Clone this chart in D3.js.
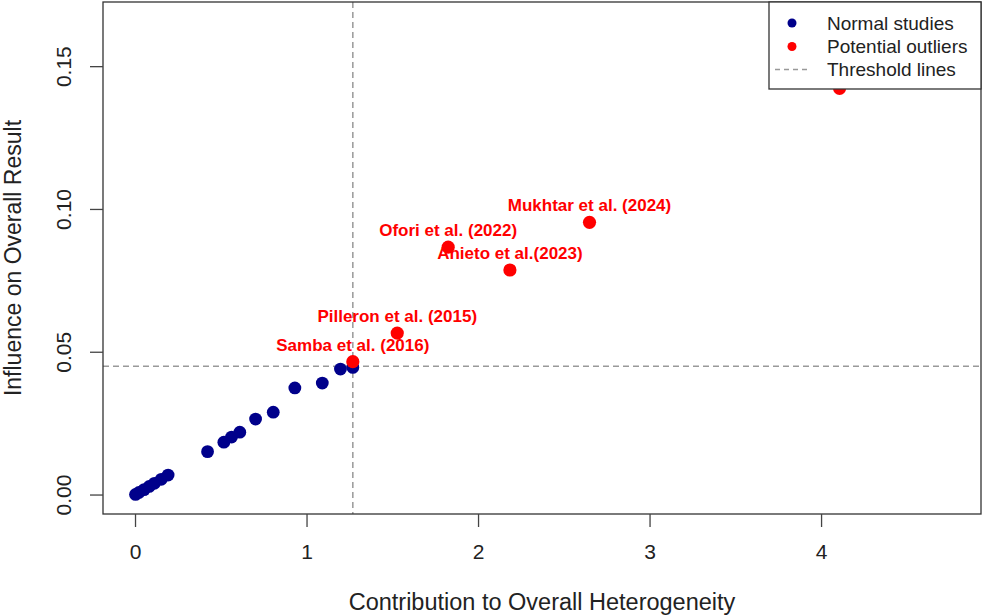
<!DOCTYPE html>
<html>
<head>
<meta charset="utf-8">
<script src="https://d3js.org/d3.v7.min.js"></script>
<style>
  body { margin: 0; background: #fff; }
  text { font-family: "Liberation Sans", Arial, sans-serif; }
</style>
</head>
<body>
<script>
// Normal studies (blue)
const normalX = [0.00, 0.02, 0.05, 0.08, 0.11, 0.15, 0.19, 0.42, 0.515, 0.56, 0.608, 0.70, 0.803, 0.929, 1.089, 1.195, 1.267];
const normalY = [0.0002, 0.0009, 0.0019, 0.0030, 0.0041, 0.0055, 0.0070, 0.0152, 0.0185, 0.0203, 0.0220, 0.0266, 0.0290, 0.0375, 0.0392, 0.0441, 0.0447];

// Potential outliers (red)
const outX = [1.267, 1.526, 1.823, 2.183, 2.647, 4.105];
const outY = [0.0467, 0.0567, 0.0868, 0.0788, 0.0955, 0.1424];
const outLabels = ["Samba et al. (2016)", "Pilleron et al. (2015)", "Ofori et al. (2022)", "Anieto et al.(2023)", "Mukhtar et al. (2024)", null];

// threshold lines
const thresholdX = 1.267;
const thresholdY = 0.0451;

const xTicks = [0, 1, 2, 3, 4];
const yTicks = [0, 0.05, 0.10, 0.15];
const legendItems = ["Normal studies", "Potential outliers", "Threshold lines"];

const xlim = [0, 4.74], ylim = [0, 0.166];

const width = 983, height = 615;
const plot = { left: 103, right: 981, top: 2, bottom: 514 };

// R style 4% padding on each side
const pad = (l) => { const d = (l[1] - l[0]) * 0.04; return [l[0] - d, l[1] + d]; };

const x = d3.scaleLinear().domain(pad(xlim)).range([plot.left, plot.right]);
const y = d3.scaleLinear().domain(pad(ylim)).range([plot.bottom, plot.top]);

const svg = d3.select("body").append("svg")
    .attr("width", width)
    .attr("height", height);

// threshold lines
svg.append("line")
    .attr("x1", x(thresholdX)).attr("x2", x(thresholdX))
    .attr("y1", plot.top).attr("y2", plot.bottom)
    .attr("stroke", "#999").attr("stroke-width", 1.5).attr("stroke-dasharray", "6,4");
svg.append("line")
    .attr("x1", plot.left).attr("x2", plot.right)
    .attr("y1", y(thresholdY)).attr("y2", y(thresholdY))
    .attr("stroke", "#999").attr("stroke-width", 1.5).attr("stroke-dasharray", "6,4");

// points
const normal = normalX.map((v, i) => ({ x: v, y: normalY[i] }));
const outliers = outX.map((v, i) => ({ x: v, y: outY[i], label: outLabels[i] }));

svg.append("g").selectAll("circle")
  .data(normal)
  .enter().append("circle")
    .attr("cx", d => x(d.x))
    .attr("cy", d => y(d.y))
    .attr("r", 6.4)
    .attr("fill", "#00008B");

svg.append("g").selectAll("circle")
  .data(outliers)
  .enter().append("circle")
    .attr("cx", d => x(d.x))
    .attr("cy", d => y(d.y))
    .attr("r", 6.6)
    .attr("fill", "#FF0000");

svg.append("g").selectAll("text")
  .data(outliers.filter(d => d.label))
  .enter().append("text")
    .attr("x", d => x(d.x))
    .attr("y", d => y(d.y) - 11)
    .attr("text-anchor", "middle")
    .attr("font-size", 17)
    .attr("font-weight", "bold")
    .attr("fill", "#FF0000")
    .text(d => d.label);

// box
svg.append("rect")
    .attr("x", plot.left).attr("y", plot.top)
    .attr("width", plot.right - plot.left).attr("height", plot.bottom - plot.top)
    .attr("fill", "none").attr("stroke", "#333").attr("stroke-width", 1.3);

// x axis
const gx = svg.append("g");
gx.selectAll("line").data(xTicks).enter().append("line")
    .attr("x1", d => x(d)).attr("x2", d => x(d))
    .attr("y1", plot.bottom).attr("y2", plot.bottom + 13)
    .attr("stroke", "#444").attr("stroke-width", 1.3);
gx.selectAll("text").data(xTicks).enter().append("text")
    .attr("x", d => x(d)).attr("y", 559)
    .attr("text-anchor", "middle").attr("font-size", 21).attr("fill", "#222")
    .text(d => d3.format("d")(d));
svg.append("text")
    .attr("x", (plot.left + plot.right) / 2).attr("y", 610)
    .attr("text-anchor", "middle").attr("font-size", 23.5).attr("fill", "#222")
    .text("Contribution to Overall Heterogeneity");

// y axis
const gy = svg.append("g");
gy.selectAll("line").data(yTicks).enter().append("line")
    .attr("x1", plot.left - 13).attr("x2", plot.left)
    .attr("y1", d => y(d)).attr("y2", d => y(d))
    .attr("stroke", "#444").attr("stroke-width", 1.3);
gy.selectAll("text").data(yTicks).enter().append("text")
    .attr("transform", d => `translate(71,${y(d)}) rotate(-90)`)
    .attr("text-anchor", "middle").attr("font-size", 21).attr("fill", "#222")
    .text(d => d3.format(".2f")(d));
svg.append("text")
    .attr("transform", `translate(21,${(plot.top + plot.bottom) / 2}) rotate(-90)`)
    .attr("text-anchor", "middle").attr("font-size", 23).attr("fill", "#222")
    .text("Influence on Overall Result");

// legend
const lg = svg.append("g");
lg.append("rect")
    .attr("x", 769).attr("y", plot.top)
    .attr("width", plot.right - 769).attr("height", 89 - plot.top)
    .attr("fill", "#fff").attr("stroke", "#333").attr("stroke-width", 1.3);
const rowY = [23, 46.5, 69.5];
lg.append("circle").attr("cx", 792).attr("cy", rowY[0]).attr("r", 4.5).attr("fill", "#00008B");
lg.append("circle").attr("cx", 792).attr("cy", rowY[1]).attr("r", 4.5).attr("fill", "#FF0000");
lg.append("line")
    .attr("x1", 775).attr("x2", 810).attr("y1", rowY[2]).attr("y2", rowY[2])
    .attr("stroke", "#999").attr("stroke-width", 1.3).attr("stroke-dasharray", "5,4");
lg.selectAll("text").data(legendItems).enter().append("text")
    .attr("x", 827).attr("y", (d, i) => rowY[i] + 6.8)
    .attr("font-size", 19).attr("fill", "#222")
    .text(d => d);
</script>
</body>
</html>
